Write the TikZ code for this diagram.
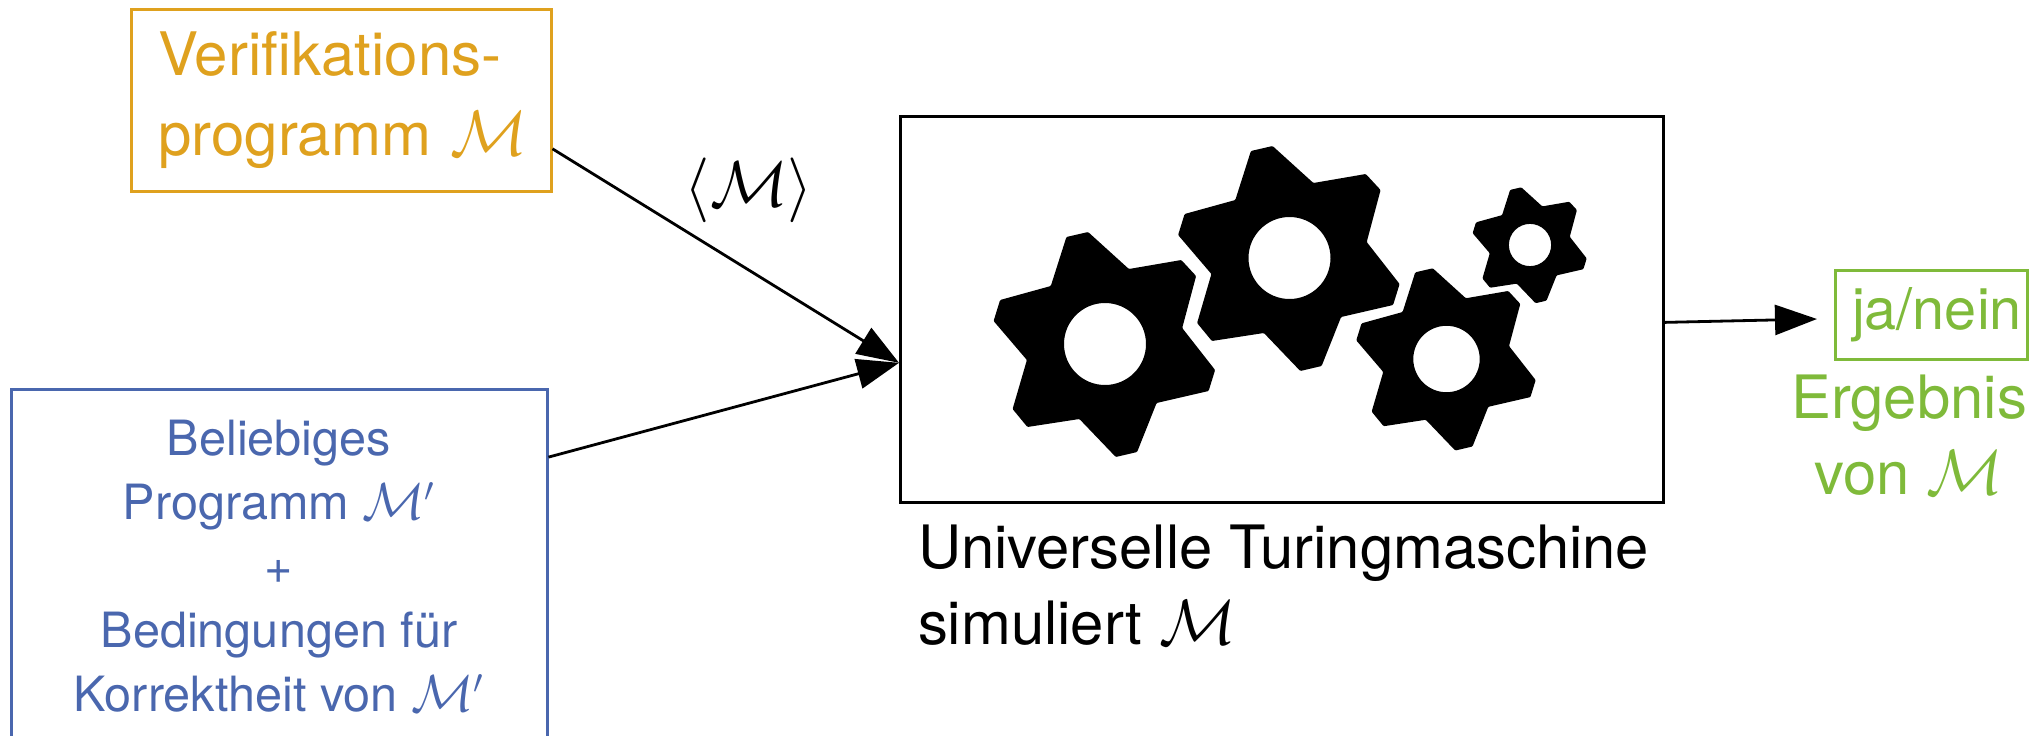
\RequirePackage{fix-cm}
\documentclass[tikz,border=0pt]{standalone}
\usepackage{graphicx}
\usepackage{fontspec}
\setmainfont{TeX Gyre Heros}
\usetikzlibrary{arrows.meta}

\definecolor{verifcolor}{HTML}{DFA11E}
\definecolor{progcolor}{HTML}{4A67AE}
\definecolor{resultcolor}{HTML}{7FBA3A}

\newcommand{\machine}{\scalebox{1.07}{$\mathcal{M}$}}

\tikzset{
  textbox/.style={draw,line width=1.5pt,inner sep=0pt,align=center},
  flow/.style={line width=1.4pt,-{Triangle[length=21pt,width=15pt]}},
  gear/.pic={
    \fill[even odd rule,rounded corners=0.5pt] (-38.6,-107) -- (-16.9,-112) -- (23.9,-75) -- (76.3,-84) -- (91.1,-68) -- (77.2,-16) -- (110.1,26) -- (103.6,47) -- (51.6,59) -- (32.1,108) -- (10.8,113) -- (-25.6,75) -- (-77.6,83) -- (-92.4,65) -- (-78.1,16) -- (-111.4,-23) -- (-104.9,-44) -- (-54.2,-58) -- cycle
      (0,0) circle [radius=41];
  }
}

\begin{document}
\begin{tikzpicture}[x=0.5pt,y=-0.5pt]
  \useasboundingbox (0,0) rectangle (2036,735);

  \node[textbox,verifcolor,minimum width=210pt,minimum height=91pt,inner xsep=13.6pt,text width=182.8pt,font=\fontsize{30}{40}\selectfont,align=left] (verif) at (341,100) {Verifikations-\\programm~\machine};
  \node[textbox,progcolor,minimum width=268pt,minimum height=177pt,font=\fontsize{24.3}{32}\selectfont] (prog) at (279,566) {Beliebiges\\Programm \machine$'$\\+\\Bedingungen für\\Korrektheit von \machine$'$};
  \node[textbox,draw=black,minimum width=381.5pt,minimum height=193pt] (utm) at (1282,309) {};
  \node[textbox,resultcolor,minimum width=96pt,minimum height=44.5pt,inner xsep=2.6pt,text width=90.8pt,font=\fontsize{28.8}{38}\selectfont,align=right] (ja) at (1931,314.5) {ja/nein};

  \coordinate (result tip) at (1817,319);

  \node[font=\fontsize{32.4}{40}\selectfont] (code) at (749,190) {$\langle\mathcal{M}\rangle$};
  \node[anchor=west,align=left,font=\fontsize{29.9}{38.3}\selectfont] (utm label) at (911,585) {Universelle Turingmaschine\\simuliert \machine};
  \node[resultcolor,align=center,font=\fontsize{29.9}{38}\selectfont] (result label) at (1909,435) {Ergebnis\\von \machine};

  \draw[flow] (verif.-13.3) -- (utm.188);
  \draw[flow] (prog.22.8) -- (utm.188);
  \draw[flow] (utm.-2.4) -- (result tip);

  \pic at (1105,344) {gear};
  \pic at (1289.5,258) {gear};
  \pic[scale=0.81] at (1446.5,359) {gear};
  \pic[scale=0.515] at (1530,245) {gear};
\end{tikzpicture}
\end{document}
